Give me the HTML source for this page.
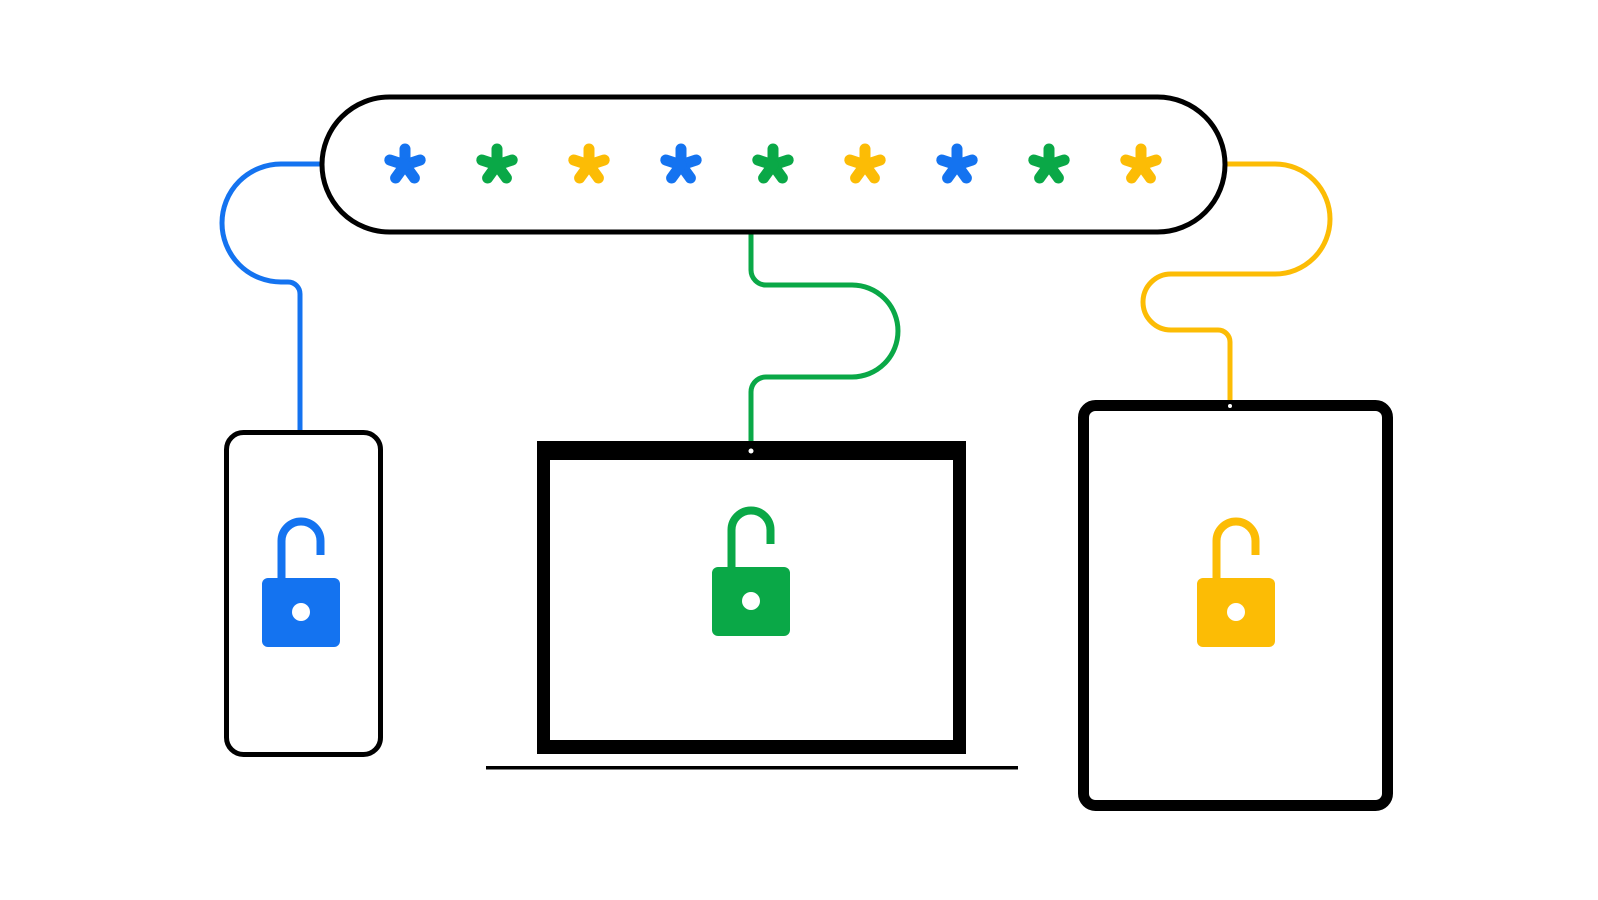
<!DOCTYPE html>
<html><head><meta charset="utf-8"><style>html,body{margin:0;padding:0;background:#fff;width:1598px;height:900px;overflow:hidden}</style></head>
<body>
<svg width="1598" height="900" viewBox="0 0 1598 900" xmlns="http://www.w3.org/2000/svg">
<defs>
<g id="ast" stroke-width="11" stroke-linecap="round">
<line x1="0" y1="0" x2="0" y2="-16"/>
<line x1="0" y1="0" x2="15.2" y2="-5"/>
<line x1="0" y1="0" x2="9.4" y2="13"/>
<line x1="0" y1="0" x2="-9.4" y2="13"/>
<line x1="0" y1="0" x2="-15.2" y2="-5"/>
</g>
<g id="lock">
<path d="M-19.5,-32 V-71 A19.5,19.5 0 0 1 19.5,-71 V-57" fill="none" stroke-width="8"/>
<rect x="-39" y="-34" width="78" height="69" rx="6" stroke="none"/>
<circle cx="0" cy="0" r="9" fill="#fff" stroke="none"/>
</g>
</defs>

<path d="M322,164 H281 A59,59 0 0 0 281,282 H288 A12,12 0 0 1 300,294 V432" fill="none" stroke="#1473f0" stroke-width="5"/>
<path d="M751,233 V270 A15,15 0 0 0 766,285 H852 A46,46 0 0 1 852,377 H766 A15,15 0 0 0 751,392 V442" fill="none" stroke="#0aa847" stroke-width="5"/>
<path d="M1225,164 H1275 A55,55 0 0 1 1275,274 H1171 A28,28 0 0 0 1171,330 H1218 A12,12 0 0 1 1230,342 V402" fill="none" stroke="#fcbc05" stroke-width="5"/>

<rect x="322" y="97" width="903" height="135" rx="67.5" fill="#fff" stroke="#000" stroke-width="5"/>
<g transform="translate(0,165)">
<use href="#ast" x="405" stroke="#1473f0"/>
<use href="#ast" x="497" stroke="#0aa847"/>
<use href="#ast" x="589" stroke="#fcbc05"/>
<use href="#ast" x="681" stroke="#1473f0"/>
<use href="#ast" x="773" stroke="#0aa847"/>
<use href="#ast" x="865" stroke="#fcbc05"/>
<use href="#ast" x="957" stroke="#1473f0"/>
<use href="#ast" x="1049" stroke="#0aa847"/>
<use href="#ast" x="1141" stroke="#fcbc05"/>
</g>

<rect x="226.5" y="432.5" width="154" height="322" rx="17" fill="#fff" stroke="#000" stroke-width="5"/>
<use href="#lock" transform="translate(301,612)" fill="#1473f0" stroke="#1473f0"/>

<path fill="#000" fill-rule="evenodd" d="M537,441 H966 V754 H537 Z M550,460 V740 H953 V460 Z"/>
<circle cx="751" cy="451" r="2.5" fill="#fff"/>
<rect x="486" y="766" width="532" height="3.5" fill="#000"/>
<use href="#lock" transform="translate(751,601)" fill="#0aa847" stroke="#0aa847"/>

<rect x="1083.5" y="405.5" width="304" height="400" rx="12" fill="#fff" stroke="#000" stroke-width="11"/>
<circle cx="1230" cy="406" r="2" fill="#fff"/>
<use href="#lock" transform="translate(1236,612)" fill="#fcbc05" stroke="#fcbc05"/>
</svg>
</body></html>
